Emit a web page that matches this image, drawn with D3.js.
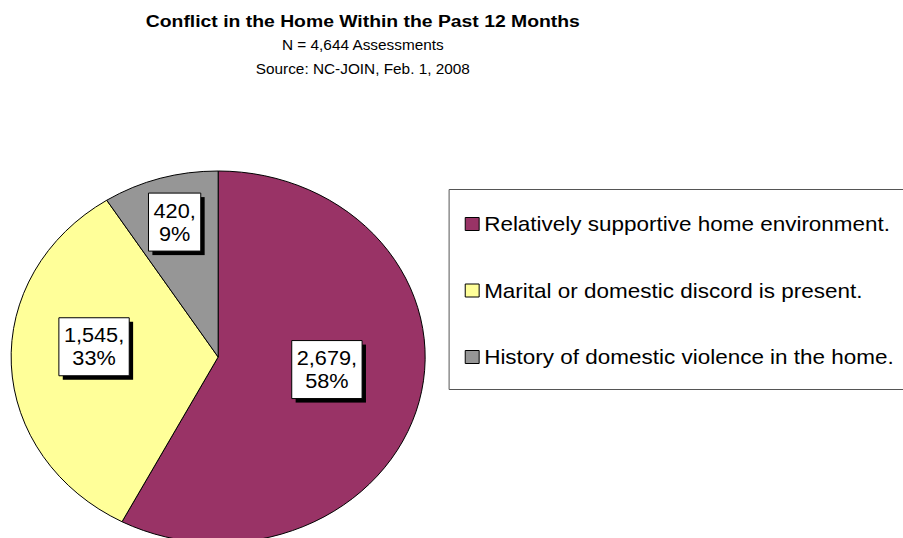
<!DOCTYPE html>
<html>
<head>
<meta charset="utf-8">
<script src="https://cdn.jsdelivr.net/npm/d3@7"></script>
<style>
  html, body { margin: 0; padding: 0; background: #fff; }
  svg { display: block; }
  text { font-family: "Liberation Sans", Arial, sans-serif; fill: #000; }
</style>
</head>
<body>
<svg id="chart" width="903" height="538"></svg>
<script>
// Chart data
const categories = [
  "Relatively supportive home environment.",
  "Marital or domestic discord is present.",
  "History of domestic violence in the home."
];
const counts = [2679, 1545, 420];
const percentLabels = ["58%", "33%", "9%"];
const colors = ["#993366", "#FFFF99", "#969696"];

const titleText = "Conflict in the Home Within the Past 12 Months";
const subtitleLines = ["N = 4,644 Assessments", "Source: NC-JOIN, Feb. 1, 2008"];

// Layout (drawn in a narrower frame, then stretched horizontally)
const W = 903, H = 538;
const stretchX = 1.113;
const innerW = W / stretchX;
const cx = 196, cy = 357, R = 186;
const labelRadius = [0.53, 0.6, 0.75];
const labelNudge = [[2, -11], [0, -15], [0, -1]];

const svg = d3.select("#chart");
const root = svg.append("g").attr("transform", `scale(${stretchX},1)`);

// Titles
const titleX = 326;
root.append("text")
  .attr("x", titleX).attr("y", 27)
  .attr("text-anchor", "middle")
  .style("font-size", "17.4px").style("font-weight", "bold")
  .text(titleText);
root.selectAll("text.sub").data(subtitleLines).join("text")
  .attr("class", "sub")
  .attr("x", titleX).attr("y", (d, i) => 50 + i * 24)
  .attr("text-anchor", "middle")
  .style("font-size", "13.8px")
  .text(d => d);

// Pie, clockwise from 12 o'clock in data order
const pie = d3.pie().sort(null).value(d => d);
const arcs = pie(counts);
const arc = d3.arc().innerRadius(0).outerRadius(R);

const pieG = root.append("g").attr("transform", `translate(${cx},${cy})`);
pieG.selectAll("path").data(arcs).join("path")
  .attr("d", arc)
  .attr("fill", (d, i) => colors[i])
  .attr("stroke", "#000")
  .attr("stroke-width", 1)
  .attr("stroke-linejoin", "round")
  .attr("vector-effect", "non-scaling-stroke");

// Data labels: boxed value + percent with a drop shadow
const fmt = d3.format(",");
const labelFont = 19.5, lineH = 23;
arcs.forEach((a, i) => {
  const mid = (a.startAngle + a.endAngle) / 2;
  const r = R * labelRadius[i];
  const lx = Math.sin(mid) * r + labelNudge[i][0];
  const ly = -Math.cos(mid) * r + labelNudge[i][1];
  const g = pieG.append("g").attr("transform", `translate(${lx},${ly})`);
  const lines = [fmt(counts[i]) + ",", percentLabels[i]];
  const shadow = g.append("rect").attr("fill", "#000");
  const box = g.append("rect").attr("fill", "#fff").attr("stroke", "#000")
    .attr("stroke-width", 1).attr("vector-effect", "non-scaling-stroke");
  const t = g.append("text").attr("text-anchor", "middle")
    .style("font-size", labelFont + "px");
  lines.forEach((s, j) => {
    t.append("tspan").attr("x", 0).attr("y", (j - 0.5) * lineH + labelFont * 0.36).text(s);
  });
  const bb = t.node().getBBox();
  const padX = 4.5;
  const bw = bb.width + padX * 2, bh = 58;
  box.attr("x", -bw / 2).attr("y", -bh / 2).attr("width", bw).attr("height", bh);
  shadow.attr("x", -bw / 2 + 3.5).attr("y", -bh / 2 + 4).attr("width", bw).attr("height", bh);
});

// Legend
const legX = 403.5, legY = 189.5, legH = 200;
root.append("rect")
  .attr("x", legX).attr("y", legY)
  .attr("width", innerW - legX + 20).attr("height", legH)
  .attr("fill", "#fff").attr("stroke", "#555").attr("stroke-width", 1)
  .attr("vector-effect", "non-scaling-stroke");

const legRows = root.selectAll("g.leg").data(categories).join("g")
  .attr("class", "leg")
  .attr("transform", (d, i) => `translate(${legX + 14.5},${224 + i * 66.5})`);
legRows.append("rect")
  .attr("x", 0).attr("y", -6.5).attr("width", 12.5).attr("height", 13)
  .attr("fill", (d, i) => colors[i]).attr("stroke", "#000").attr("stroke-width", 1)
  .attr("vector-effect", "non-scaling-stroke");
legRows.append("text")
  .attr("x", 17).attr("y", 7)
  .style("font-size", "20.2px")
  .text(d => d);
</script>
</body>
</html>
